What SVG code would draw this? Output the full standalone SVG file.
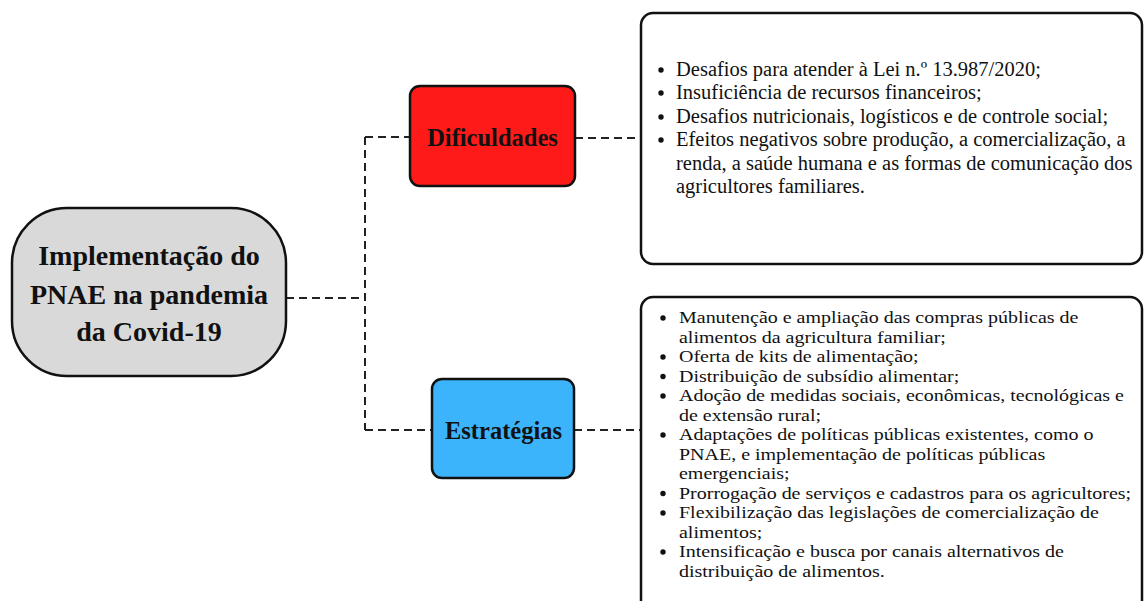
<svg xmlns="http://www.w3.org/2000/svg" width="1144" height="601" viewBox="0 0 1144 601">
<style>
.box{stroke:#111;stroke-width:2.5}
.title{font-family:"Liberation Serif","Times New Roman",serif;font-weight:bold;fill:#111;text-anchor:middle}
.body{font-family:"Liberation Serif","Times New Roman",serif;fill:#111}
.b1{font-size:20.5px}
.b2{font-size:20px}
.dot{fill:#111}
.conn{fill:none;stroke:#222;stroke-width:2;stroke-dasharray:8,5}
</style>
<rect width="1144" height="601" fill="#fff"/>
<g id="connectors">
<path class="conn" d="M286,298 H365"/>
<path class="conn" d="M365,137 V430"/>
<path class="conn" d="M365,137 H410"/>
<path class="conn" d="M365,430 H432"/>
<path class="conn" d="M575,138 H640"/>
<path class="conn" d="M574,430 H640"/>
</g>
<g id="central">
<rect class="box" x="12" y="208" width="274" height="168" rx="55" ry="55" fill="#d9d9d9"/>
<text class="title" font-size="28" x="149" y="265">Implementação do</text>
<text class="title" font-size="28" x="149" y="304">PNAE na pandemia</text>
<text class="title" font-size="28" x="149" y="341">da Covid-19</text>
</g>
<g id="dificuldades">
<rect class="box" x="410" y="86" width="165" height="100" rx="10" ry="10" fill="#ff1a1a"/>
<text class="title" font-size="24.5" x="492.5" y="146">Dificuldades</text>
</g>
<g id="estrategias">
<rect class="box" x="432" y="379" width="142" height="99" rx="10" ry="10" fill="#3bb4fb"/>
<text class="title" font-size="24.5" x="503.5" y="439">Estratégias</text>
</g>
<g id="dificuldades-list">
<rect class="box" x="641" y="13" width="501" height="251" rx="12" ry="12" fill="#fff"/>
<g class="dot">
<circle cx="661" cy="70" r="2.7"/><circle cx="661" cy="93" r="2.7"/><circle cx="661" cy="117" r="2.7"/><circle cx="661" cy="140" r="2.7"/>
</g>
<g class="body b1">
<text x="676" y="76">Desafios para atender à Lei n.º 13.987/2020;</text>
<text x="676" y="99">Insuficiência de recursos financeiros;</text>
<text x="676" y="123">Desafios nutricionais, logísticos e de controle social;</text>
<text x="676" y="146">Efeitos negativos sobre produção, a comercialização, a</text>
<text x="676" y="170">renda, a saúde humana e as formas de comunicação dos</text>
<text x="676" y="193">agricultores familiares.</text>
</g>
</g>
<g id="estrategias-list">
<rect class="box" x="641" y="297" width="501" height="320" rx="12" ry="12" fill="#fff"/>
<g class="dot">
<circle cx="663" cy="318" r="2.7"/><circle cx="663" cy="357" r="2.7"/><circle cx="663" cy="376.5" r="2.7"/><circle cx="663" cy="396" r="2.7"/><circle cx="663" cy="435" r="2.7"/><circle cx="663" cy="493.5" r="2.7"/><circle cx="663" cy="513" r="2.7"/><circle cx="663" cy="552" r="2.7"/>
</g>
<g class="body b2">
<text transform="translate(679,323) scale(1,0.83)">Manutenção e ampliação das compras públicas de</text>
<text transform="translate(679,342.5) scale(1,0.83)">alimentos da agricultura familiar;</text>
<text transform="translate(679,362) scale(1,0.83)">Oferta de kits de alimentação;</text>
<text transform="translate(679,381.5) scale(1,0.83)">Distribuição de subsídio alimentar;</text>
<text transform="translate(679,401) scale(1,0.83)">Adoção de medidas sociais, econômicas, tecnológicas e</text>
<text transform="translate(679,420.5) scale(1,0.83)">de extensão rural;</text>
<text transform="translate(679,440) scale(1,0.83)">Adaptações de políticas públicas existentes, como o</text>
<text transform="translate(679,459.5) scale(1,0.83)">PNAE, e implementação de políticas públicas</text>
<text transform="translate(679,479) scale(1,0.83)">emergenciais;</text>
<text transform="translate(679,498.5) scale(1,0.83)">Prorrogação de serviços e cadastros para os agricultores;</text>
<text transform="translate(679,518) scale(1,0.83)">Flexibilização das legislações de comercialização de</text>
<text transform="translate(679,537.5) scale(1,0.83)">alimentos;</text>
<text transform="translate(679,557) scale(1,0.83)">Intensificação e busca por canais alternativos de</text>
<text transform="translate(679,576.5) scale(1,0.83)">distribuição de alimentos.</text>
</g>
</g>
</svg>
